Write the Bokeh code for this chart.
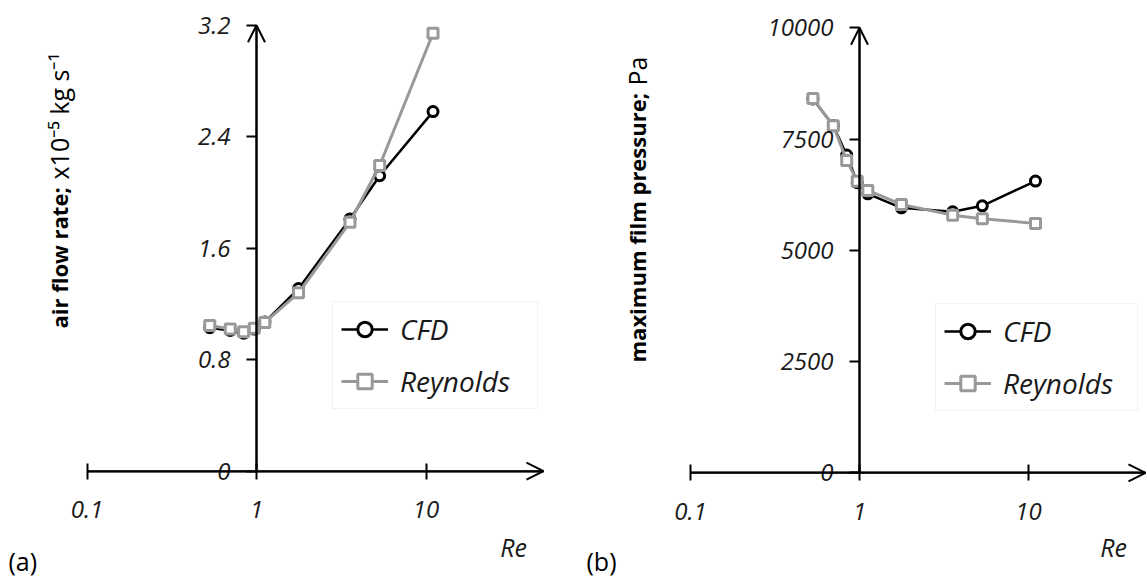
import math
from bokeh.plotting import figure
from bokeh.models import (LinearAxis, LogAxis, FixedTicker, CustomJSTickFormatter, Range1d,
                          Legend, LegendItem, Label, Arrow, OpenHead)
from bokeh.layouts import row
from bokeh.embed import file_html
from bokeh.resources import INLINE

# ---------------- data ----------------
re_values = [0.53, 0.70, 0.84, 0.97, 1.12, 1.77, 3.56, 5.33, 11.0]
flow_cfd = [1.03, 1.01, 0.99, 1.02, 1.07, 1.31, 1.81, 2.12, 2.58]
flow_reynolds = [1.045, 1.02, 1.00, 1.026, 1.067, 1.28, 1.786, 2.193, 3.142]
pressure_cfd = [8400, 7800, 7140, 6520, 6270, 5955, 5865, 6000, 6555]
pressure_reynolds = [8410, 7800, 7020, 6550, 6345, 6030, 5790, 5710, 5605]
x_ticks = [0.1, 1, 10]
flow_ticks = [0, 0.8, 1.6, 2.4, 3.2]
pressure_ticks = [0, 2500, 5000, 7500, 10000]
series_names = ["CFD", "Reynolds"]
flow_title = ["air flow rate;", "x10\u207b\u2075 kg s\u207b\u00b9"]
pressure_title = ["maximum film pressure;", "Pa"]
panel_tags = ["(a)", "(b)"]
x_title = "Re"

FONT = "Open Sans"
PAGE_TOP = 0
HEIGHT = 576
GRAY = "#999999"
TXT = "#1a1a1a"


def make_panel(left, width, x0, dx, y0, sy, ticks, cfd, rey, titles, tag,
               x_tip, title_base_x, title_start_y, title2_start_y, legend_box, re_xy, tag_xy):
    def xd(px):
        return 10 ** ((px - x0) / dx)

    def yd(py):
        return (y0 - py) / sy

    p = figure(width=width, height=HEIGHT, x_axis_type="log",
               x_axis_location=None, y_axis_location=None,
               x_range=Range1d(xd(left), xd(left + width)),
               y_range=Range1d(yd(PAGE_TOP + HEIGHT), yd(PAGE_TOP)),
               output_backend="svg", toolbar_location=None, min_border=0)
    p.outline_line_color = None
    p.background_fill_color = "white"
    p.border_fill_color = "white"
    p.grid.grid_line_color = None

    fmt = CustomJSTickFormatter(code="return String(tick);")
    x_end = xd(x_tip)
    xaxis = LogAxis(fixed_location=0, bounds=(x_ticks[0], x_end),
                    ticker=FixedTicker(ticks=x_ticks), formatter=fmt)
    yaxis = LinearAxis(fixed_location=1, bounds=(ticks[0], ticks[-1]),
                       ticker=FixedTicker(ticks=ticks), formatter=fmt)
    for ax in (xaxis, yaxis):
        ax.axis_line_color = "black"
        ax.axis_line_width = 2
        ax.major_tick_line_color = "black"
        ax.major_tick_line_width = 2
        ax.minor_tick_line_color = None
        ax.major_label_text_font = FONT
        ax.major_label_text_font_style = "italic"
        ax.major_label_text_font_size = "24px"
        ax.major_label_text_color = TXT
    xaxis.major_tick_in = 8
    xaxis.major_tick_out = 8
    xaxis.major_label_standoff = 22
    yaxis.major_tick_in = 0
    yaxis.major_tick_out = 10
    yaxis.major_label_standoff = 16
    p.add_layout(xaxis, "below")
    p.add_layout(yaxis, "left")

    p.add_layout(Arrow(end=OpenHead(size=17, line_width=2, line_color="black"),
                       x_start=x_ticks[0], y_start=0, x_end=x_end, y_end=0,
                       line_width=2, line_color="black"))
    p.add_layout(Arrow(end=OpenHead(size=17, line_width=2, line_color="black"),
                       x_start=1, y_start=ticks[0], x_end=1, y_end=ticks[-1],
                       line_width=2, line_color="black"))

    l1 = p.line(re_values, cfd, line_color="black", line_width=2.5)
    s1 = p.scatter(re_values, cfd, marker="circle", size=10, line_color="black",
                   line_width=3, fill_color="white")
    l2 = p.line(re_values, rey, line_color=GRAY, line_width=3)
    s2 = p.scatter(re_values, rey, marker="square", size=10, line_color=GRAY,
                   line_width=3, fill_color="white")

    bx_left, bx_bottom, lab_w = legend_box
    legend = Legend(items=[LegendItem(label=series_names[0], renderers=[l1, s1]),
                           LegendItem(label=series_names[1], renderers=[l2, s2])],
                    location=(bx_left - left, PAGE_TOP + HEIGHT - bx_bottom),
                    margin=0, padding=8, spacing=14,
                    glyph_width=47, glyph_height=36, label_height=36, label_width=lab_w,
                    label_standoff=12,
                    label_text_font=FONT, label_text_font_style="italic",
                    label_text_font_size="28px", label_text_color=TXT,
                    border_line_color="#e8e8e8", border_line_width=1,
                    background_fill_color="white", background_fill_alpha=1)
    p.add_layout(legend)

    p.add_layout(Label(x=xd(title_base_x), y=yd(title_start_y), text=titles[0], angle=math.pi / 2,
                       text_align="left", text_baseline="alphabetic", text_font=FONT,
                       text_font_style="bold", text_font_size="22px", text_color="black"))
    p.add_layout(Label(x=xd(title_base_x), y=yd(title2_start_y), text=titles[1], angle=math.pi / 2,
                       text_align="left", text_baseline="alphabetic", text_font=FONT,
                       text_font_style="normal", text_font_size="25px", text_color="black"))
    p.add_layout(Label(x=xd(re_xy[0]), y=yd(re_xy[1]), text=x_title, text_align="center",
                       text_baseline="middle", text_font=FONT, text_font_style="italic",
                       text_font_size="25px", text_color=TXT))
    p.add_layout(Label(x=xd(tag_xy[0]), y=yd(tag_xy[1]), text=tag, text_align="left",
                       text_baseline="middle", text_font=FONT, text_font_size="25px",
                       text_color="black"))
    return p


LEFT_A, WIDTH_A = 0, 564
LEFT_B = LEFT_A + WIDTH_A
WIDTH_B = 1147 - LEFT_B

pa = make_panel(LEFT_A, WIDTH_A, x0=256, dx=169.5, y0=470.7, sy=446.0 / 3.2,
                ticks=flow_ticks, cfd=flow_cfd, rey=flow_reynolds, titles=flow_title,
                tag=panel_tags[0], x_tip=543, title_base_x=58, title_start_y=328,
                title2_start_y=179, legend_box=(332, 409, 129),
                re_xy=(513, 546), tag_xy=(8, 560))
pb = make_panel(LEFT_B, WIDTH_B, x0=859, dx=169.0, y0=472.3, sy=445.0 / 10000,
                ticks=pressure_ticks, cfd=pressure_cfd, rey=pressure_reynolds,
                titles=pressure_title, tag=panel_tags[1], x_tip=1145, title_base_x=636,
                title_start_y=362, title2_start_y=85,
                legend_box=(935, 411, 126),
                re_xy=(1113, 546), tag_xy=(586, 560))

layout = row(pa, pb)
open("out.html", "w").write(file_html(layout, INLINE))
